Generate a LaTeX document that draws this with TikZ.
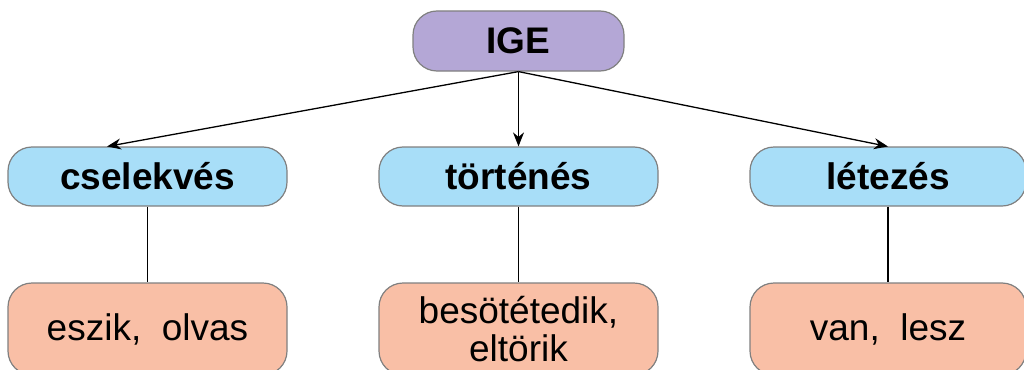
\documentclass[tikz,border=0pt]{standalone}
\usepackage{fontspec}
\setmainfont{Liberation Sans}
\usetikzlibrary{arrows.meta}
\definecolor{igefill}{RGB}{180,167,214}
\definecolor{catfill}{RGB}{168,222,248}
\definecolor{exfill}{RGB}{249,191,166}
\definecolor{boxline}{RGB}{128,128,128}
\tikzset{
  box/.style={draw=boxline, line width=1.2pt, rounded corners=24pt, inner sep=0pt, align=center, font=\fontsize{37}{38}\selectfont},
  igebox/.style={box, fill=igefill, minimum width=211pt, minimum height=60pt, font=\fontsize{37}{38}\selectfont\bfseries},
  catbox/.style={box, fill=catfill, minimum width=279pt, minimum height=59pt, font=\fontsize{37}{38}\selectfont\bfseries},
  exbox/.style={box, fill=exfill, minimum width=279pt, minimum height=92pt},
  arr/.style={line width=1.3pt, -{Stealth[length=14pt,width=11pt]}},
  conn/.style={line width=1.3pt}
}
\begin{document}
\begin{tikzpicture}[x=1pt,y=-1pt]
\useasboundingbox (0,0) rectangle (1024,369);
\node[igebox] (ige) at (518.5,41) {IGE};
\node[catbox] (c1) at (147.5,176.5) {cselekvés};
\node[catbox] (c2) at (518.5,176.5) {történés};
\node[catbox, minimum width=276pt] (c3) at (888,176.5) {létezés};
\node[exbox] (e1) at (147.5,329) {eszik,\ \ olvas};
\node[exbox] (e2) at (518.5,329) {besötétedik,\\eltörik};
\node[exbox, minimum width=276pt] (e3) at (888,329) {van,\ \ lesz};
\coordinate (t1) at (107,146.5);
\coordinate (t3) at (888,146.5);
\draw[arr] (ige.south) -- (t1);
\draw[arr] (ige.south) -- (c2.north);
\draw[arr] (ige.south) -- (t3);
\draw[conn] (c1.south) -- (e1.north);
\draw[conn] (c2.south) -- (e2.north);
\draw[conn] (c3.south) -- (e3.north);
\end{tikzpicture}
\end{document}
